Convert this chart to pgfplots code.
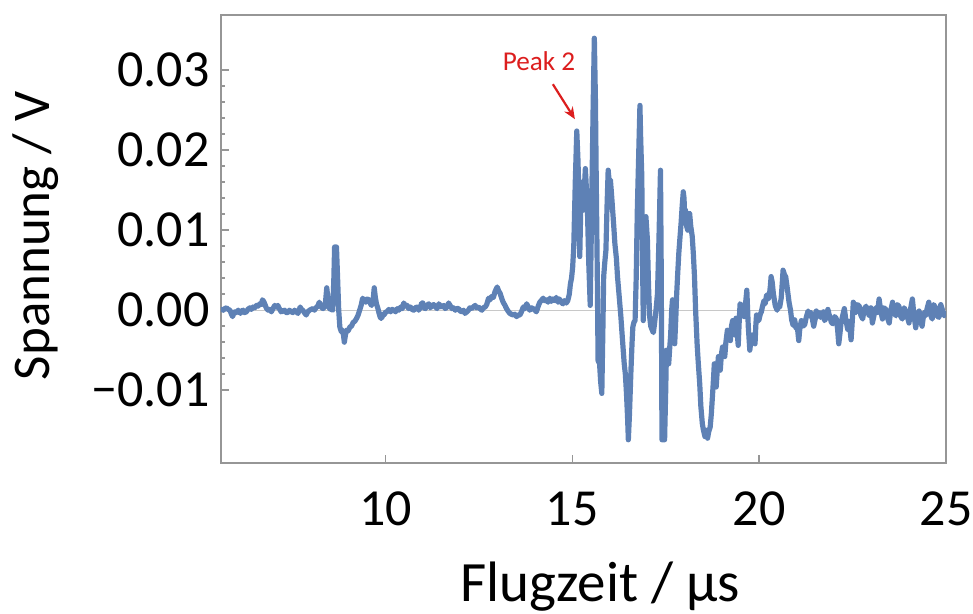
\documentclass[border=0pt]{standalone}
\usepackage{fontspec}
\setmainfont{Carlito}
\usepackage{pgfplots}
\pgfplotsset{compat=1.18}
\usetikzlibrary{arrows.meta}

\definecolor{mmaBlue}{RGB}{94,129,181}
\definecolor{frameGray}{RGB}{150,150,150}
\definecolor{zeroGray}{RGB}{200,200,200}
\definecolor{peakRed}{RGB}{220,30,30}

\begin{document}
\begin{tikzpicture}
\begin{axis}[
    name=ax,
    width=362.5pt, height=224pt, scale only axis,
    xmin=5.6, xmax=25,
    ymin=-0.0191, ymax=0.0369,
    axis line style={draw=frameGray, line width=0.8pt},
    xtick={10,15,20,25},
    ytick={-0.01,0,0.01,0.02,0.03},
    yticklabels={−0.01,0.00,0.01,0.02,0.03},
    minor y tick num=4,
    xtick pos=bottom, ytick pos=left,
    tick align=inside,
    tick style={draw=frameGray, line width=0.7pt},
    major tick length=4pt, minor tick length=2pt,
    scaled y ticks=false,
    /pgf/number format/assume math mode=true,
    xticklabel style={font=\fontsize{26}{30}\selectfont, anchor=base, inner sep=0pt, yshift=-31pt},
    yticklabel style={font=\fontsize{26}{30}\selectfont, anchor=east, inner sep=0pt, xshift=-5.5pt},
    xlabel={Flugzeit / µs},
    ylabel={Spannung / V},
    xlabel style={font=\fontsize{28.5}{33}\selectfont, at={(axis description cs:0.523,-0.31)}, anchor=base},
    ylabel style={font=\fontsize{26.5}{31}\selectfont, at={(axis description cs:-0.255,0.507)}, anchor=center},
]

% zero reference line
\addplot[zeroGray, line width=0.6pt, forget plot] coordinates {(5.6,0) (25,0)};

\addplot[mmaBlue, line width=2.6pt, line join=round] table {
x y
5.60 -0.0002
5.63 0.0001
5.66 0.0000
5.70 0.0002
5.75 0.0003
5.79 0.0001
5.84 0.0000
5.88 -0.0005
5.91 -0.0008
5.94 -0.0004
5.97 -0.0002
6.01 -0.0003
6.06 0.0000
6.09 -0.0002
6.12 -0.0004
6.15 -0.0001
6.19 0.0000
6.23 -0.0003
6.28 -0.0002
6.32 0.0001
6.37 0.0003
6.41 0.0001
6.46 0.0004
6.50 0.0003
6.55 0.0006
6.59 0.0005
6.64 0.0008
6.68 0.0007
6.71 0.0013
6.74 0.0011
6.77 0.0008
6.81 0.0003
6.86 0.0000
6.90 0.0001
6.95 -0.0002
6.99 0.0002
7.04 0.0006
7.08 0.0004
7.12 0.0006
7.16 0.0002
7.21 -0.0002
7.25 -0.0001
7.30 0.0000
7.34 -0.0003
7.39 -0.0003
7.43 0.0000
7.48 -0.0002
7.52 -0.0003
7.57 0.0000
7.61 -0.0002
7.66 -0.0004
7.69 0.0000
7.72 0.0004
7.75 0.0001
7.79 0.0000
7.83 -0.0003
7.88 -0.0006
7.92 -0.0002
7.97 0.0000
8.01 0.0001
8.06 0.0002
8.10 0.0000
8.14 0.0003
8.19 0.0005
8.23 0.0010
8.26 0.0006
8.28 0.0004
8.33 0.0002
8.37 0.0004
8.40 0.0012
8.43 0.0028
8.46 0.0015
8.50 0.0002
8.55 0.0001
8.59 0.0000
8.62 0.0040
8.64 0.0079
8.69 0.0079
8.72 0.0040
8.75 0.0000
8.78 -0.0021
8.82 -0.0027
8.85 -0.0025
8.88 -0.0032
8.90 -0.0040
8.93 -0.0031
8.96 -0.0025
9.00 -0.0026
9.05 -0.0021
9.09 -0.0020
9.14 -0.0015
9.18 -0.0014
9.23 -0.0010
9.27 -0.0006
9.31 0.0000
9.35 0.0006
9.39 0.0015
9.43 0.0012
9.47 0.0010
9.51 0.0014
9.56 0.0013
9.60 0.0008
9.63 0.0006
9.67 0.0012
9.70 0.0028
9.73 0.0016
9.76 0.0008
9.80 0.0002
9.83 -0.0004
9.87 -0.0010
9.90 -0.0010
9.93 -0.0005
9.96 -0.0006
10.01 -0.0002
10.05 -0.0002
10.09 0.0001
10.14 -0.0002
10.18 0.0001
10.23 0.0000
10.27 -0.0002
10.32 0.0002
10.36 0.0000
10.41 0.0004
10.45 0.0002
10.49 0.0009
10.54 0.0005
10.58 0.0006
10.62 0.0002
10.67 0.0004
10.71 0.0001
10.76 0.0000
10.80 0.0003
10.85 0.0004
10.89 0.0000
10.94 0.0004
10.97 0.0009
11.00 0.0009
11.03 0.0003
11.07 0.0002
11.11 0.0006
11.16 0.0008
11.20 0.0003
11.25 0.0006
11.29 0.0007
11.34 0.0004
11.38 0.0002
11.43 0.0008
11.47 0.0005
11.51 0.0004
11.56 0.0006
11.60 0.0002
11.65 0.0004
11.69 0.0009
11.73 0.0006
11.78 0.0002
11.82 0.0003
11.87 0.0000
11.91 0.0002
11.96 0.0002
12.00 -0.0001
12.05 -0.0002
12.09 0.0000
12.13 -0.0004
12.18 -0.0002
12.22 0.0000
12.26 0.0003
12.31 0.0002
12.35 0.0004
12.40 0.0006
12.44 0.0003
12.49 0.0004
12.53 0.0002
12.58 0.0000
12.62 0.0003
12.67 0.0004
12.71 0.0007
12.76 0.0015
12.80 0.0013
12.84 0.0017
12.89 0.0016
12.93 0.0023
12.99 0.0029
13.03 0.0024
13.07 0.0021
13.11 0.0015
13.15 0.0010
13.20 0.0006
13.24 0.0002
13.28 -0.0001
13.33 -0.0004
13.37 -0.0005
13.42 -0.0006
13.46 -0.0005
13.51 -0.0008
13.55 -0.0006
13.60 -0.0006
13.64 -0.0002
13.69 0.0004
13.73 0.0002
13.78 0.0008
13.82 0.0004
13.86 0.0000
13.91 0.0003
13.95 0.0002
14.00 0.0000
14.04 -0.0002
14.08 0.0004
14.13 0.0010
14.17 0.0012
14.22 0.0015
14.26 0.0012
14.31 0.0013
14.35 0.0010
14.40 0.0015
14.44 0.0011
14.48 0.0014
14.53 0.0012
14.57 0.0016
14.62 0.0010
14.66 0.0014
14.70 0.0010
14.75 0.0008
14.79 0.0012
14.84 0.0009
14.88 0.0012
14.92 0.0020
14.95 0.0033
14.98 0.0040
15.01 0.0054
15.04 0.0080
15.08 0.0160
15.12 0.0224
15.15 0.0190
15.17 0.0158
15.20 0.0067
15.24 0.0160
15.26 0.0140
15.29 0.0125
15.32 0.0150
15.35 0.0177
15.38 0.0150
15.41 0.0117
15.44 0.0060
15.48 0.0006
15.51 0.0100
15.53 0.0167
15.56 0.0260
15.59 0.0340
15.62 0.0260
15.64 0.0167
15.67 0.0040
15.69 -0.0063
15.73 -0.0067
15.76 -0.0090
15.79 -0.0104
15.82 -0.0020
15.84 0.0042
15.87 0.0060
15.90 0.0075
15.93 0.0130
15.96 0.0175
15.99 0.0160
16.02 0.0163
16.05 0.0145
16.08 0.0125
16.11 0.0105
16.14 0.0083
16.18 0.0065
16.21 0.0042
16.25 0.0020
16.30 -0.0008
16.34 -0.0035
16.39 -0.0067
16.42 -0.0080
16.45 -0.0104
16.48 -0.0135
16.50 -0.0162
16.53 -0.0130
16.57 -0.0075
16.60 -0.0040
16.62 -0.0021
16.65 -0.0015
16.68 -0.0013
16.71 0.0040
16.74 0.0125
16.78 0.0200
16.81 0.0256
16.83 0.0215
16.86 0.0167
16.88 0.0060
16.90 -0.0013
16.93 0.0050
16.97 0.0117
17.01 0.0088
17.04 0.0030
17.07 -0.0008
17.10 -0.0020
17.14 -0.0025
17.17 -0.0028
17.20 -0.0017
17.24 0.0000
17.28 0.0021
17.32 0.0090
17.36 0.0175
17.38 0.0050
17.40 -0.0162
17.44 -0.0162
17.47 -0.0162
17.50 -0.0100
17.52 -0.0050
17.55 -0.0055
17.58 -0.0067
17.61 -0.0045
17.63 -0.0033
17.66 0.0000
17.68 0.0013
17.71 -0.0020
17.74 -0.0042
17.77 -0.0010
17.79 0.0017
17.82 0.0045
17.85 0.0071
17.88 0.0090
17.91 0.0108
17.94 0.0130
17.97 0.0148
17.99 0.0140
18.01 0.0115
18.03 0.0125
18.06 0.0105
18.09 0.0100
18.11 0.0120
18.14 0.0121
18.17 0.0105
18.21 0.0092
18.24 0.0070
18.27 0.0042
18.30 0.0000
18.34 -0.0042
18.37 -0.0065
18.41 -0.0092
18.44 -0.0120
18.48 -0.0142
18.51 -0.0150
18.55 -0.0158
18.58 -0.0150
18.62 -0.0160
18.65 -0.0152
18.69 -0.0146
18.72 -0.0130
18.75 -0.0108
18.78 -0.0085
18.80 -0.0067
18.83 -0.0080
18.85 -0.0096
18.88 -0.0075
18.91 -0.0058
18.94 -0.0065
18.96 -0.0075
18.99 -0.0055
19.02 -0.0046
19.05 -0.0052
19.08 -0.0058
19.11 -0.0040
19.15 -0.0025
19.19 -0.0033
19.23 -0.0038
19.26 -0.0020
19.29 -0.0013
19.32 -0.0025
19.36 -0.0031
19.38 -0.0010
19.40 -0.0021
19.44 -0.0044
19.47 -0.0010
19.49 0.0008
19.53 0.0006
19.56 -0.0002
19.60 -0.0008
19.64 0.0010
19.67 0.0025
19.71 -0.0021
19.75 -0.0050
19.78 -0.0038
19.82 -0.0033
19.85 -0.0030
19.89 -0.0042
19.91 -0.0020
19.93 -0.0006
19.96 -0.0010
19.99 -0.0013
20.03 -0.0005
20.06 -0.0002
20.09 0.0005
20.13 0.0012
20.16 0.0008
20.20 0.0019
20.24 0.0014
20.27 0.0017
20.30 0.0030
20.32 0.0042
20.35 0.0035
20.38 0.0021
20.43 0.0006
20.48 0.0000
20.51 0.0005
20.55 0.0004
20.59 0.0015
20.62 0.0035
20.64 0.0050
20.68 0.0044
20.71 0.0042
20.74 0.0032
20.77 0.0021
20.80 0.0010
20.84 0.0000
20.87 -0.0012
20.91 -0.0019
20.95 -0.0012
20.99 -0.0023
21.02 -0.0020
21.06 -0.0038
21.09 -0.0022
21.13 -0.0013
21.17 -0.0020
21.22 -0.0018
21.26 -0.0009
21.31 -0.0001
21.35 -0.0007
21.39 -0.0003
21.42 -0.0010
21.46 -0.0020
21.50 -0.0011
21.53 -0.0001
21.57 -0.0008
21.62 -0.0003
21.65 -0.0009
21.69 -0.0007
21.72 -0.0002
21.75 -0.0013
21.80 -0.0009
21.84 0.0001
21.87 -0.0005
21.90 -0.0009
21.93 -0.0015
21.97 -0.0017
22.02 -0.0008
22.06 -0.0010
22.10 -0.0024
22.13 -0.0042
22.16 -0.0030
22.19 -0.0016
22.23 -0.0008
22.28 0.0002
22.32 -0.0012
22.37 -0.0024
22.41 -0.0014
22.46 -0.0037
22.49 -0.0015
22.52 0.0010
22.56 0.0001
22.59 -0.0003
22.63 0.0007
22.68 0.0005
22.72 -0.0006
22.77 -0.0011
22.81 0.0001
22.86 0.0005
22.90 -0.0002
22.95 -0.0007
22.99 0.0003
23.03 -0.0016
23.08 -0.0005
23.12 0.0003
23.17 -0.0003
23.21 0.0014
23.25 0.0000
23.30 -0.0011
23.34 0.0003
23.39 0.0001
23.43 -0.0009
23.48 -0.0016
23.52 -0.0001
23.57 0.0010
23.61 -0.0003
23.66 -0.0007
23.70 0.0007
23.74 0.0005
23.79 -0.0008
23.83 -0.0011
23.88 0.0003
23.92 -0.0001
23.97 -0.0009
24.01 -0.0016
24.05 0.0001
24.10 0.0014
24.14 -0.0005
24.19 -0.0022
24.23 -0.0009
24.28 -0.0001
24.32 -0.0013
24.36 -0.0020
24.41 -0.0003
24.45 -0.0007
24.50 0.0003
24.54 0.0010
24.58 -0.0005
24.63 -0.0011
24.67 0.0007
24.72 0.0003
24.76 -0.0007
24.81 -0.0009
24.86 0.0007
24.90 0.0001
24.95 -0.0007
25.00 -0.0001
};

% annotation
\node[text=peakRed, font=\fontsize{13.6}{16}\selectfont, anchor=center] at (axis cs:14.11,0.0311) {Peak 2};
\draw[peakRed, line width=1.1pt, -{Stealth[length=6pt,width=5pt]}] (axis cs:14.48,0.02825) -- (axis cs:15.07,0.02388);
\end{axis}
\pgfresetboundingbox
\path ([xshift=-110.5pt,yshift=-75.5pt]ax.south west) rectangle ([xshift=13.5pt,yshift=7.5pt]ax.north east);
\end{tikzpicture}
\end{document}
